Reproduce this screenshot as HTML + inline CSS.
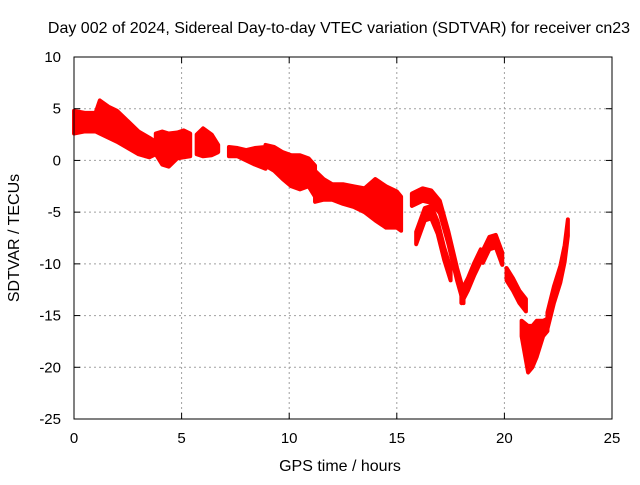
<!DOCTYPE html>
<html><head><meta charset="utf-8"><style>
body{margin:0;background:#fff}
svg text{font-family:"Liberation Sans",sans-serif;font-size:15px;fill:#000}
svg text.big{font-size:16px}
</style></head><body>
<svg width="640" height="480">
<g id="grid"></g>
<g id="bands"></g>
<rect x="74" y="57" width="538" height="362" fill="none" stroke="#000" stroke-width="1"/>
<g id="ticks"></g>
<text class="big" x="339" y="33" text-anchor="middle">Day 002 of 2024, Sidereal Day-to-day VTEC variation (SDTVAR) for receiver cn23</text>
<text class="big" x="340" y="471" text-anchor="middle">GPS time / hours</text>
<text class="big" transform="translate(19,238) rotate(-90)" text-anchor="middle">SDTVAR / TECUs</text>
</svg>
<script>
const xTicks=[0,5,10,15,20,25];
const yTicks=[10,5,0,-5,-10,-15,-20,-25];
const t1=[0,0.5,1.0,1.2,1.6,2.0,2.5,3.0,3.5,3.8],hi1=[4.8,4.6,4.6,5.8,5.2,4.8,3.8,2.8,2.2,1.8],lo1=[2.6,2.8,2.8,2.6,2.2,1.8,1.2,0.6,0.3,0.6];
const t2=[3.8,4.1,4.4,4.8,5.1,5.4],hi2=[2.6,2.8,2.6,2.7,2.9,2.6],lo2=[0.6,-0.4,-0.6,0.2,0.3,0.4];
const t3=[5.7,6.0,6.4,6.7],hi3=[2.5,3.1,2.5,1.5],lo3=[0.6,0.4,0.5,0.8];
const t4=[7.2,7.6,8.0,8.4,8.9],hi4=[1.3,1.2,1.0,1.2,1.3],lo4=[0.4,0.4,0.0,-0.4,-0.8];
const t5=[8.9,9.3,9.7,10.1,10.5,10.9,11.2],hi5=[1.5,1.3,0.8,0.5,0.5,0.2,-0.5],lo5=[-0.5,-1.0,-1.8,-2.5,-2.8,-2.5,-3.5];
const t6=[11.2,11.6,12.0,12.5,13.0,13.5,14.0,14.5,15.0,15.2],hi6=[-1.0,-1.8,-2.3,-2.3,-2.5,-2.7,-1.8,-2.5,-3.0,-3.5],lo6=[-4.0,-3.8,-3.8,-4.2,-4.5,-5.0,-5.8,-6.5,-6.5,-6.8];
const t7=[15.7,16.2,16.6,17.0,17.4,17.8,18.1],hi7=[-3.2,-2.7,-2.9,-3.9,-6.9,-10.4,-12.6],lo7=[-4.4,-3.9,-4.1,-5.1,-8.1,-11.6,-13.8];
const t8=[15.9,16.3,16.6,16.9,17.2,17.5],hi8=[-6.9,-4.6,-4.4,-5.9,-8.4,-10.4],lo8=[-8.1,-5.8,-5.6,-7.1,-9.6,-11.6];
const t9=[18.0,18.3,18.6,18.9],hi9=[-12.6,-11.4,-9.9,-8.6],lo9=[-13.8,-12.6,-11.1,-9.8];
const t10=[19.0,19.3,19.6,19.9],hi10=[-8.7,-7.4,-7.2,-8.9],lo10=[-9.9,-8.6,-8.4,-10.1];
const t11=[20.1,20.4,20.7,21.0],hi11=[-10.4,-11.4,-12.6,-13.4],lo11=[-11.6,-12.6,-13.8,-14.6];
const t12=[20.8,21.1,21.3,21.5,21.8,22.0],hi12=[-15.5,-16,-16,-15.5,-15.5,-15.3],lo12=[-17,-20.5,-20,-19,-17,-16.5];
const t13=[22.0,22.3,22.6,22.8,22.95],hi13=[-14.7,-12.2,-10.2,-8.2,-5.7],lo13=[-16.3,-13.8,-11.8,-9.8,-7.3];
const series=[[t1,hi1,lo1],[t2,hi2,lo2],[t3,hi3,lo3],[t4,hi4,lo4],[t5,hi5,lo5],[t6,hi6,lo6],[t7,hi7,lo7],[t8,hi8,lo8],[t9,hi9,lo9],[t10,hi10,lo10],[t11,hi11,lo11],[t12,hi12,lo12],[t13,hi13,lo13]];
const NS="http://www.w3.org/2000/svg";
const X0=74,X1=612,Y0=419,Y1=57;
const xs=v=>X0+(v-0)/(25-0)*(X1-X0);
const ys=v=>Y0-(v+25)/(10+25)*(Y0-Y1);
const grid=document.getElementById('grid'),ticks=document.getElementById('ticks'),bands=document.getElementById('bands');
function mk(tag,attrs,parent){const e=document.createElementNS(NS,tag);for(const k in attrs)e.setAttribute(k,attrs[k]);parent.appendChild(e);return e;}
xTicks.forEach(v=>{const x=xs(v);
 if(v>0&&v<25){const g=mk('line',{x1:x,x2:x,y1:Y1,y2:Y0,stroke:'#a0a0a0','stroke-dasharray':'2,3'},grid);}
 const l=mk('line',{x1:x,x2:x,y1:Y0,y2:Y0-6,stroke:'#000'},ticks);
 const l2=mk('line',{x1:x,x2:x,y1:Y1,y2:Y1+6,stroke:'#000'},ticks);
 const t=mk('text',{x:x,y:443,'text-anchor':'middle'},ticks);t.textContent=v;});
yTicks.forEach(v=>{const y=ys(v);
 if(v>-25&&v<10){const g=mk('line',{x1:X0,x2:X1,y1:y,y2:y,stroke:'#a0a0a0','stroke-dasharray':'2,3'},grid);}
 const l=mk('line',{x1:X0,x2:X0+6,y1:y,y2:y,stroke:'#000'},ticks);
 const l2=mk('line',{x1:X1,x2:X1-6,y1:y,y2:y,stroke:'#000'},ticks);
 const t=mk('text',{x:61,y:y+5,'text-anchor':'end'},ticks);t.textContent=v;});
series.forEach(([t,hi,lo])=>{
 const pts=t.map((v,i)=>xs(v)+','+ys(hi[i])).concat(t.map((v,i)=>xs(v)+','+ys(lo[i])).reverse());
 const p=mk('polygon',{points:pts.join(' '),fill:'#ff0000',stroke:'#ff0000','stroke-width':4,'stroke-linejoin':'round'},bands);
 
 
});
</script>
</body></html>
